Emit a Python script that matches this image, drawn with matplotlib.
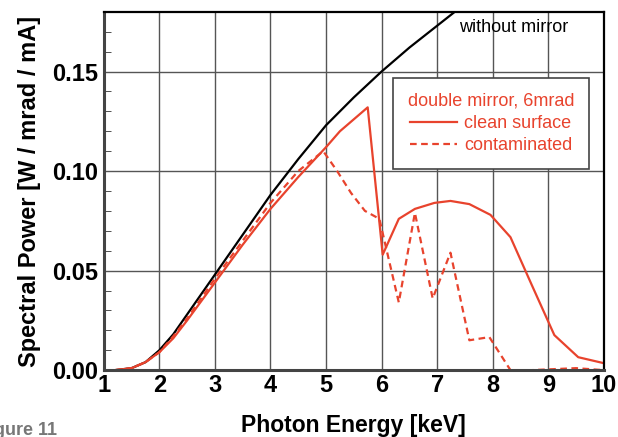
import matplotlib
matplotlib.use("Agg")
import matplotlib.pyplot as plt
from matplotlib.lines import Line2D
from matplotlib.ticker import MultipleLocator

plt.rcParams["font.family"] = ["Liberation Sans", "DejaVu Sans"]

# without mirror
e_black = [1.2, 1.5, 1.75, 2.0, 2.25, 2.5, 3.0, 3.5, 4.0, 4.5, 5.0, 5.5, 6.0, 6.5, 7.0, 7.5]
p_black = [0.0, 0.001, 0.004, 0.010, 0.018, 0.028, 0.048, 0.068, 0.088, 0.106, 0.123, 0.137,
           0.150, 0.162, 0.173, 0.184]

# double mirror, clean surface
e_clean = [1.2, 1.5, 1.75, 2.0, 2.25, 2.5, 3.0, 3.5, 4.0, 4.5, 5.0, 5.25, 5.5, 5.75,
           6.02, 6.31, 6.6, 6.95, 7.24, 7.58, 7.96, 8.32, 8.7, 9.11, 9.54, 10.0]
p_clean = [0.0, 0.001, 0.004, 0.009, 0.016, 0.025, 0.044, 0.063, 0.081, 0.097, 0.112, 0.120,
           0.126, 0.132, 0.058, 0.076, 0.081, 0.084, 0.085, 0.0834, 0.078, 0.0668, 0.043,
           0.0176, 0.0065, 0.0035]

# double mirror, contaminated
e_cont = [1.2, 1.5, 1.75, 2.0, 2.25, 2.5, 3.0, 3.5, 4.0, 4.5, 4.95, 5.2, 5.45, 5.7, 5.96,
          6.31, 6.6, 6.92, 7.24, 7.58, 7.94, 8.32, 8.7, 9.1, 9.5, 10.0]
p_cont = [0.0, 0.001, 0.004, 0.009, 0.017, 0.026, 0.046, 0.065, 0.084, 0.100, 0.110, 0.100,
          0.089, 0.080, 0.076, 0.034, 0.079, 0.036, 0.059, 0.015, 0.0166, 0.0, 0.0, 0.0005,
          0.001, 0.0]

red = "#e8432d"

fig = plt.figure(figsize=(6.18, 4.37), dpi=100)
ax = fig.add_axes([0.168, 0.153, 0.809, 0.820])

ax.plot(e_black, p_black, color="black", lw=1.6)
ax.plot(e_clean, p_clean, color=red, lw=1.6)
ax.plot(e_cont, p_cont, color=red, lw=1.6, ls=(0, (3, 2)))

ax.set_xlim(1, 10)
ax.set_ylim(0, 0.18)
ax.xaxis.set_major_locator(MultipleLocator(1))
ax.yaxis.set_major_locator(MultipleLocator(0.05))
ax.yaxis.set_minor_locator(MultipleLocator(0.01))
ax.yaxis.set_major_formatter(plt.FuncFormatter(lambda v, p: f"{v:.2f}"))
ax.grid(True, which="major", color="#555555", lw=1.0)
ax.tick_params(axis="both", which="major", length=0, labelsize=17, pad=4)
ax.tick_params(axis="x", which="major", pad=3)
ax.tick_params(axis="y", which="minor", direction="in", length=5, color="#333333")
for lab in ax.get_xticklabels() + ax.get_yticklabels():
    lab.set_fontweight("bold")

for side in ["left", "bottom"]:
    ax.spines[side].set_linewidth(2.2)
    ax.spines[side].set_color("#444444")
for side in ["top", "right"]:
    ax.spines[side].set_linewidth(1.6)
    ax.spines[side].set_color("black")

ax.set_xlabel("Photon Energy [keV]", fontsize=16.5, fontweight="bold", labelpad=12)
ax.set_ylabel("Spectral Power [W / mrad / mA]", fontsize=17, fontweight="bold", labelpad=8)

ax.text(8.37, 0.172, "without mirror", fontsize=13, color="black", ha="center", va="center")

handles = [Line2D([], [], color=red, lw=1.6),
           Line2D([], [], color=red, lw=1.6, ls=(0, (3, 2)))]
leg = ax.legend(handles, ["clean surface", "contaminated"], title="double mirror, 6mrad",
                loc="upper right", bbox_to_anchor=(0.988, 0.84), fontsize=13,
                title_fontsize=13, frameon=True, fancybox=False, handlelength=2.6,
                handletextpad=0.4, labelspacing=0.3, borderpad=0.8,
                framealpha=1, edgecolor="#444444")
leg.get_frame().set_linewidth(1.2)
leg.get_title().set_color(red)
for t in leg.get_texts():
    t.set_color(red)

fig.text(-0.035, 0.005, "Figure 11", fontsize=13, fontweight="bold", color="#777777")

fig.savefig("out.png", dpi=100)
